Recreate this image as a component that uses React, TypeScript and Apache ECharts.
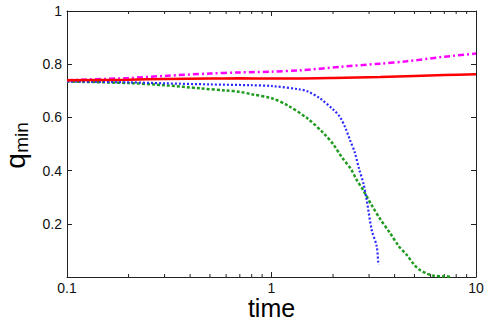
import React, { useEffect, useRef } from "react";
import * as echarts from "echarts";

const redT = [0.1, 0.2, 0.3, 0.5, 0.7, 1, 1.3, 2, 3.4, 5, 7, 10];
const redQ = [0.740, 0.742, 0.744, 0.746, 0.747, 0.746, 0.746, 0.748, 0.752, 0.756, 0.759, 0.762];

const magT = [0.1, 0.2, 0.3, 0.5, 0.7, 1, 1.38, 2.16, 3.39, 4.58, 7, 10];
const magQ = [0.740, 0.748, 0.756, 0.765, 0.769, 0.772, 0.777, 0.790, 0.802, 0.811, 0.828, 0.840];

const blueT = [0.1, 0.2, 0.3, 0.5, 0.79, 1, 1.38, 1.5, 1.73, 2.0, 2.16, 2.3, 2.42, 2.55, 2.69, 2.81, 2.92, 3.09, 3.27, 3.33];
const blueQ = [0.735, 0.732, 0.728, 0.724, 0.721, 0.718, 0.705, 0.698, 0.671, 0.630, 0.602, 0.560, 0.515, 0.470, 0.402, 0.354, 0.290, 0.177, 0.115, 0.046];

const greenT = [0.1, 0.2, 0.3, 0.45, 0.6, 0.7, 0.8, 1.0, 1.2, 1.5, 1.8, 2.0, 2.2, 2.45, 2.6, 2.8, 3.1, 3.4, 3.8, 4.2, 4.6, 5.0, 5.3, 5.8, 6.2, 7.0, 7.6];
const greenQ = [0.735, 0.729, 0.721, 0.709, 0.701, 0.696, 0.687, 0.672, 0.645, 0.596, 0.540, 0.500, 0.452, 0.405, 0.367, 0.328, 0.268, 0.218, 0.165, 0.115, 0.082, 0.045, 0.027, 0.012, 0.005, 0.002, 0.001];

const minorTicks = [0.2, 0.3, 0.4, 0.5, 0.6, 0.7, 0.8, 0.9, 2, 3, 4, 5, 6, 7, 8, 9];
const xTickLabels = ["0.1", "1", "10"];
const yTickLabels = ["0.2", "0.4", "0.6", "0.8", "1"];

const FONT = "'Liberation Sans', Arial, Helvetica, sans-serif";
const AXIS_COLOR = "#222";

function pairs(t: number[], q: number[]) {
  return t.map((v, i) => [v, q[i]]);
}

export default function App() {
  const ref = useRef<HTMLDivElement>(null);
  useEffect(() => {
    if (!ref.current) return;
    const chart = echarts.init(ref.current, null, { renderer: "svg" });
    const xAxisBase = {
      type: "log" as const,
      logBase: 10,
      min: 0.1,
      max: 10,
      splitLine: { show: false },
      axisLine: { show: true, onZero: false, lineStyle: { color: AXIS_COLOR, width: 1 } },
      axisTick: { show: true, inside: true, length: 5, lineStyle: { color: AXIS_COLOR } },
    };
    const yAxisBase = {
      type: "value" as const,
      min: 0,
      max: 1,
      interval: 0.2,
      splitLine: { show: false },
      axisLine: { show: true, onZero: false, lineStyle: { color: AXIS_COLOR, width: 1 } },
      axisTick: { show: true, inside: true, length: 5, lineStyle: { color: AXIS_COLOR } },
    };
    chart.setOption({
      animation: false,
      backgroundColor: "#fff",
      grid: { left: 67, right: 15, top: 11, bottom: 50 },
      xAxis: [
        {
          ...xAxisBase,
          position: "bottom",
          axisLabel: {
            show: true,
            margin: 4,
            fontSize: 14,
            fontFamily: FONT,
            color: "#111",
            formatter: (v: number) => {
              const s = v < 0.5 ? xTickLabels[0] : v < 5 ? xTickLabels[1] : xTickLabels[2];
              return s;
            },
          },
        },
        { ...xAxisBase, position: "top", axisLabel: { show: false } },
      ],
      yAxis: [
        {
          ...yAxisBase,
          position: "left",
          axisLabel: {
            show: true,
            margin: 5,
            fontSize: 14,
            fontFamily: FONT,
            color: "#111",
            formatter: (v: number) => {
              const idx = Math.round(v / 0.2) - 1;
              return idx >= 0 ? yTickLabels[idx] : "";
            },
          },
        },
        { ...yAxisBase, position: "right", axisLabel: { show: false } },
      ],
      series: [
        {
          type: "custom",
          xAxisIndex: 0,
          yAxisIndex: 0,
          clip: false,
          silent: true,
          data: minorTicks.map((t) => [t, 0]),
          renderItem: (params: any, api: any) => {
            const x = api.value(0);
            const b = api.coord([x, 0]);
            const t = api.coord([x, 1]);
            const style = { stroke: AXIS_COLOR, lineWidth: 1 };
            return {
              type: "group",
              children: [
                { type: "line", shape: { x1: b[0], y1: b[1], x2: b[0], y2: b[1] - 3 }, style },
                { type: "line", shape: { x1: t[0], y1: t[1], x2: t[0], y2: t[1] + 3 }, style },
              ],
            };
          },
        },
        {
          type: "line",
          data: pairs(greenT, greenQ),
          showSymbol: false,
          smooth: 0.3,
          lineStyle: { color: "#1f9c1f", width: 2.5, type: [3, 2] },
        },
        {
          type: "line",
          data: pairs(blueT, blueQ),
          showSymbol: false,
          smooth: 0.3,
          lineStyle: { color: "#2a2aff", width: 2.2, type: [2, 2] },
        },
        {
          type: "line",
          data: pairs(magT, magQ),
          showSymbol: false,
          smooth: 0.3,
          lineStyle: { color: "#ff00ff", width: 2.5, type: [6, 3, 2, 3] },
        },
        {
          type: "line",
          data: pairs(redT, redQ),
          showSymbol: false,
          smooth: 0.3,
          lineStyle: { color: "#ff0000", width: 2.5, type: "solid" },
        },
      ],
      graphic: [
        {
          type: "text",
          x: 271.5,
          y: 308,
          style: {
            text: "time",
            font: `25px ${FONT}`,
            fill: "#000",
            textAlign: "center",
            textVerticalAlign: "middle",
          },
        },
        {
          type: "text",
          x: 15.5,
          y: 161,
          rotation: Math.PI / 2,
          style: {
            text: "q",
            font: `28px ${FONT}`,
            fill: "#000",
            textAlign: "center",
            textVerticalAlign: "middle",
          },
        },
        {
          type: "text",
          x: 21.5,
          y: 137.5,
          rotation: Math.PI / 2,
          style: {
            text: "min",
            font: `19px ${FONT}`,
            fill: "#000",
            textAlign: "center",
            textVerticalAlign: "middle",
          },
        },
      ],
    });
    return () => chart.dispose();
  }, []);
  return (
    <div
      ref={ref}
      style={{ position: "absolute", left: 0, top: 0, width: 491, height: 327 }}
    />
  );
}
